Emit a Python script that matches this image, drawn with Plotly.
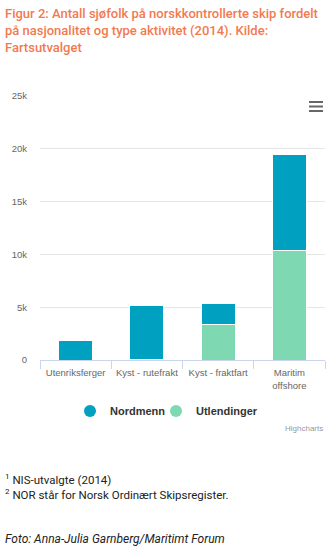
import plotly.graph_objects as go

# Data: seafarers on Norwegian-controlled ships by nationality and activity (2014)
categories = ["Utenriksferger", "Kyst - rutefrakt", "Kyst - fraktfart", "Maritim<br>offshore"]
utlendinger = [0, 60, 3340, 10350]
nordmenn = [1830, 5140, 2030, 9100]
y_ticks = [0, 5000, 10000, 15000, 20000, 25000]
y_tick_labels = ["0", "5k", "10k", "15k", "20k", "25k"]
legend_names = ["Nordmenn", "Utlendinger"]

W, H = 333, 547
L, R, T, B = 40, 8, 96, 187

BLUE = "#00a0c1"
GREEN = "#7ed9b2"
ORANGE = "#f27a50"
CHART_FONT = "Liberation Sans"


def px(x):
    return (x - L) / (W - L - R)


def py(y):
    return (H - B - y) / (H - T - B)


fig = go.Figure()

# Stacked columns (Utlendinger at the bottom, Nordmenn on top)
fig.add_trace(go.Bar(x=categories, y=utlendinger, name="Utlendinger",
                     marker=dict(color=GREEN, line=dict(color="white", width=1)),
                     showlegend=False, hoverinfo="x+y"))
fig.add_trace(go.Bar(x=categories, y=nordmenn, name="Nordmenn",
                     marker=dict(color=BLUE, line=dict(color="white", width=1)),
                     showlegend=False, hoverinfo="x+y"))

# Legend entries with round symbols
for name, color, lw in [(legend_names[0], BLUE, 41), (legend_names[1], GREEN, 70)]:
    fig.add_trace(go.Scatter(x=[None], y=[None], mode="markers", name=name, legendwidth=lw,
                             marker=dict(symbol="circle", size=12, color=color)))

annotations = [
    dict(text="Figur 2: Antall sjøfolk på norskkontrollerte skip fordelt<br>"
              "på nasjonalitet og type aktivitet (2014). Kilde:<br>Fartsutvalget",
         x=px(3), y=py(4), xanchor="left", yanchor="top", align="left",
         font=dict(family="Roboto", size=13, color=ORANGE, weight=500)),
    dict(text="Highcharts", x=px(325), y=py(428), xanchor="right", yanchor="middle",
         font=dict(family=CHART_FONT, size=8, color="#999999")),
    dict(text="<sup>1</sup> NIS-utvalgte (2014)", x=px(3), y=py(479),
         xanchor="left", yanchor="middle", align="left",
         font=dict(family="Roboto", size=11.5, color="#222222")),
    dict(text="<sup>2</sup> NOR står for Norsk Ordinært Skipsregister.", x=px(3), y=py(495),
         xanchor="left", yanchor="middle", align="left",
         font=dict(family="Roboto", size=11.5, color="#222222")),
    dict(text="<i>Foto: Anna-Julia Garnberg/Maritimt Forum</i>", x=px(3), y=py(539),
         xanchor="left", yanchor="middle", align="left",
         font=dict(family="Roboto", size=12, color="#222222")),
]
for a in annotations:
    a.update(xref="paper", yref="paper", showarrow=False)

# Export menu icon
shapes = []
for yy in (102, 106.5, 111):
    shapes.append(dict(type="line", xref="paper", yref="paper",
                       x0=px(309), x1=px(323), y0=py(yy), y1=py(yy),
                       line=dict(color="#666666", width=2)))

fig.update_layout(
    width=W, height=H,
    margin=dict(l=L, r=R, t=T, b=B, pad=0),
    paper_bgcolor="white", plot_bgcolor="white",
    barmode="stack", bargap=0.52,
    font=dict(family=CHART_FONT, size=10, color="#666666"),
    annotations=annotations, shapes=shapes,
    legend=dict(orientation="h", x=px(70), xanchor="left", y=py(411), yanchor="middle",
                traceorder="normal",
                font=dict(family=CHART_FONT, size=11, color="#333333", weight="bold"),
                itemwidth=30, bgcolor="rgba(0,0,0,0)"),
    showlegend=True,
)
fig.update_xaxes(type="category", showgrid=False, showline=True, linecolor="#ccd6eb", linewidth=1,
                 ticks="outside", tickson="boundaries", ticklen=8, tickcolor="#ccd6eb",
                 tickangle=0, ticklabelstandoff=4, tickfont=dict(size=9.5, color="#666666"),
                 zeroline=False, fixedrange=True)
fig.update_yaxes(range=[0, 25000], tickvals=y_ticks, ticktext=y_tick_labels,
                 showgrid=True, gridcolor="#e6e6e6", gridwidth=1, zeroline=False, showline=False,
                 ticks="", ticklabelstandoff=12, tickfont=dict(size=9.5, color="#666666"),
                 fixedrange=True)

fig.write_html("out.html", config={"displayModeBar": False})
